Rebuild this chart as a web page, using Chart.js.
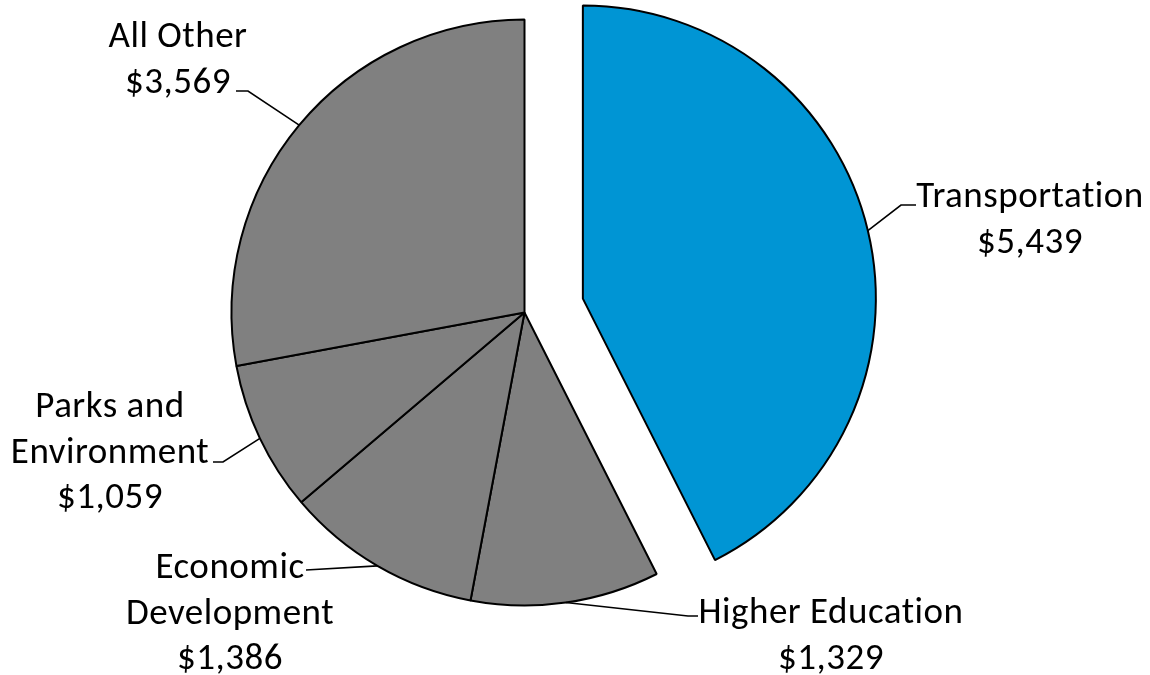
<!DOCTYPE html>
<html>
<head>
<meta charset="utf-8">
<script src="https://cdn.jsdelivr.net/npm/chart.js@4.4.1/dist/chart.umd.min.js"></script>
<style>
  body { margin: 0; background: #fff; }
  #wrap { width: 1150px; height: 675px; }
</style>
</head>
<body>
<div id="wrap"><canvas id="budgetPie" width="1150" height="675"></canvas></div>
<script>
// data, clockwise from 12 o'clock
const categories = ["Transportation", "Higher Education", "Economic Development", "Parks and Environment", "All Other"];
const amounts = [5439, 1329, 1386, 1059, 3569];
const labelText = [["Transportation"], ["Higher Education"], ["Economic", "Development"], ["Parks and", "Environment"], ["All Other"]];
const sliceColors = ["#0095d4", "#808080", "#808080", "#808080", "#808080"];
const explodeBy = [60, 0, 0, 0, 0];

// where each label sits and how its leader line bends
const labelSpots = [
    {x: 1030, y: 207, from: [916, 205], elbow: [901, 205]},
    {x: 831, y: 623, from: [698, 616], elbow: [688, 616]},
    {x: 230, y: 578, from: [306, 570], elbow: [306, 570]},
    {x: 110, y: 417, from: [213, 462], elbow: [223, 462]},
    {x: 178, y: 47, from: [236, 91], elbow: [248, 91]}
];
const lineGap = 45.5;
const labelFont = "37px Carlito, Calibri, Lato, sans-serif";

function money(v){
    return "$" + v.toLocaleString("en-US");
}

const explodePlugin = {
    id: "explode",
    afterDatasetUpdate(chart, args){
        args.meta.data.forEach(function(arc, i){
            if(!explodeBy[i]) return;
            let mid = (arc.startAngle + arc.endAngle) / 2;
            arc.x += Math.cos(mid) * explodeBy[i];
            arc.y += Math.sin(mid) * explodeBy[i];
        });
    }
};

const labelPlugin = {
    id: "sliceLabels",
    afterDraw(chart){
        const ctx = chart.ctx;
        const arcs = chart.getDatasetMeta(0).data;
        ctx.save();
        ctx.font = labelFont;
        ctx.letterSpacing = "0.5px";
        ctx.fillStyle = "#000";
        ctx.textAlign = "center";
        ctx.textBaseline = "alphabetic";
        ctx.strokeStyle = "#000";
        ctx.lineWidth = 1.6;
        arcs.forEach(function(arc, i){
            let spot = labelSpots[i];
            let lines = labelText[i].concat([money(amounts[i])]);
            lines.forEach(function(t, k){
                ctx.fillText(t, spot.x, spot.y + k * lineGap);
            });
            let mid = (arc.startAngle + arc.endAngle) / 2;
            let ax = arc.x + Math.cos(mid) * arc.outerRadius;
            let ay = arc.y + Math.sin(mid) * arc.outerRadius;
            ctx.beginPath();
            ctx.moveTo(spot.from[0], spot.from[1]);
            ctx.lineTo(spot.elbow[0], spot.elbow[1]);
            ctx.lineTo(ax, ay);
            ctx.stroke();
        });
        ctx.restore();
    }
};

new Chart(document.getElementById("budgetPie"), {
    type: "pie",
    data: {
        labels: categories,
        datasets: [{
            data: amounts,
            backgroundColor: sliceColors,
            borderColor: "#000",
            borderWidth: 2
        }]
    },
    options: {
        responsive: false,
        animation: false,
        radius: 293,
        layout: { padding: {left: 0, right: 101, top: 0, bottom: 50} },
        plugins: {
            legend: { display: false },
            tooltip: { enabled: false }
        }
    },
    plugins: [explodePlugin, labelPlugin]
});
</script>
</body>
</html>
